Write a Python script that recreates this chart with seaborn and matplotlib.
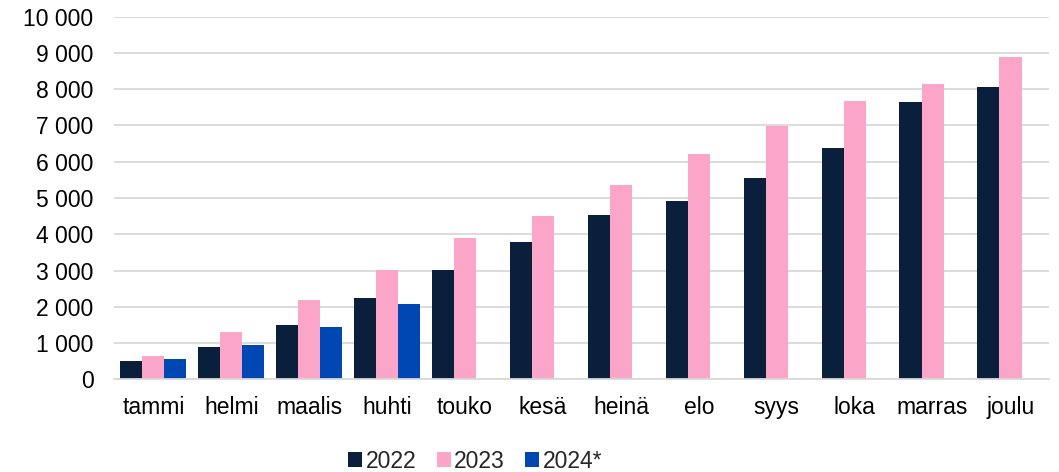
import pandas as pd
import seaborn as sns
import matplotlib.pyplot as plt
from matplotlib.ticker import FuncFormatter

months = ["tammi", "helmi", "maalis", "huhti", "touko", "kesä",
          "heinä", "elo", "syys", "loka", "marras", "joulu"]
y2022 = [510, 905, 1500, 2245, 3010, 3790, 4535, 4910, 5545, 6370, 7655, 8050]
y2023 = [640, 1310, 2200, 3020, 3900, 4510, 5350, 6205, 6985, 7665, 8150, 8885]
y2024 = [555, 940, 1445, 2070]
years = ["2022", "2023", "2024*"]
colors = ["#0a1f3c", "#fba5c8", "#0047b3"]

rows = []
for m, v in zip(months, y2022):
    rows.append((m, "2022", v))
for m, v in zip(months, y2023):
    rows.append((m, "2023", v))
for m, v in zip(months, y2024):
    rows.append((m, "2024*", v))
df = pd.DataFrame(rows, columns=["kk", "vuosi", "arvo"])

sns.set_style("white")
plt.rcParams['font.family'] = ['Liberation Sans', 'DejaVu Sans']

fig = plt.figure(figsize=(10.59, 4.72), dpi=100)
ax = fig.add_axes([0.108, 0.196, 0.883, 0.769])

sns.barplot(data=df, x="kk", y="arvo", hue="vuosi", order=months,
            hue_order=years, palette=colors, width=0.85, saturation=1,
            errorbar=None, linewidth=0, ax=ax)

ax.set_ylim(0, 10000)
ax.set_yticks(range(0, 10001, 1000))
ax.yaxis.set_major_formatter(FuncFormatter(lambda v, p: f"{int(v):,}".replace(",", " ")))
ax.grid(axis="y", color="#d9d9d9", linewidth=1.3)
ax.set_axisbelow(True)
for s in ["top", "right", "left"]:
    ax.spines[s].set_visible(False)
ax.spines["bottom"].set_color("#d9d9d9")
ax.spines["bottom"].set_linewidth(1.3)
ax.tick_params(axis="y", length=0, pad=15, labelsize=16.5, colors="black")
ax.tick_params(axis="x", length=0, pad=12, labelsize=16.5, colors="black")
ax.set_xlabel("")
ax.set_ylabel("")

ax.legend(loc="center", bbox_to_anchor=(0.386, -0.225), ncol=3, frameon=False,
          fontsize=16.5, handlelength=0.6, handleheight=0.6, handletextpad=0.15,
          columnspacing=0.9, borderpad=0.2)

fig.savefig("out.png", dpi=100)
